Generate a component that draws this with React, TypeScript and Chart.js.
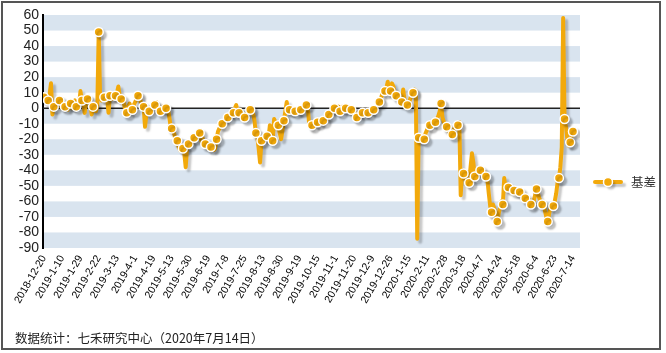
import React, { useEffect, useRef } from 'react';
import { Chart, registerables } from 'chart.js';

Chart.register(...registerables);

// Tick labels (one every 13 trading days)
const tickLabels = [
  '2018-12-20', '2019-1-10', '2019-1-29', '2019-2-22', '2019-3-13', '2019-4-1',
  '2019-4-19', '2019-5-13', '2019-5-30', '2019-6-19', '2019-7-8', '2019-7-25',
  '2019-8-13', '2019-8-30', '2019-9-19', '2019-10-15', '2019-11-1', '2019-11-20',
  '2019-12-9', '2019-12-26', '2020-1-15', '2020-2-11', '2020-2-28', '2020-3-18',
  '2020-4-7', '2020-4-24', '2020-5-18', '2020-6-4', '2020-6-23', '2020-7-14',
];
const labelEvery = 13;

const seriesName = '基差';
const footerText = '数据统计：七禾研究中心（2020年7月14日）';

// Daily basis values, one row per 13 trading days
const basis2019a = [
  7, 8, 6, 5, 9, 16, -4, 1, 2, 4, 2, 5, 1,
  0, 3, 1, 2, -1, 3, 3, 0, 4, 5, 1, 3, 2,
  11, 5, 3, -3, 4, 6, 7, 2, -4, 1, 2, -2, 1,
  49, 7, 5, 6, 7, 7, 6, -3, 8, 6, 6, 7, 8,
  10, 14, 8, 6, 5, 3, -2, -3, 1, 3, 0, -1, 2,
  4, 6, 8, 9, 4, 2, 1, -12, -4, 0, -2, -1, 2,
  1, 2, 4, 0, -1, -2, -2, 1, -1, 0, 1, -4, -10,
  -13, -15, -17, -22, -21, -25, -27, -24, -26, -29, -38, -25, -23,
  -22, -23, -21, -19, -20, -18, -17, -16, -21, -19, -24, -23, -25,
  -26, -24, -25, -26, -27, -26, -20, -15, -13, -12, -10, -9, -7,
];
const basis2019b = [
  -7, -6, -5, -4, -3, -3, 0, 2, -2, -3, -1, -4, -5,
  -6, -4, -3, -2, -1, 0, -3, -8, -16, -18, -26, -35, -21,
  -22, -19, -20, -18, -19, -11, -14, -21, -7, -9, -12, -11, -16,
  -20, -14, -8, -2, 4, -2, -1, -3, -1, -2, -2, -3, -1,
  -3, -1, 0, -2, 1, 2, 0, -10, -12, -11, -9, -10, -11,
  -9, -8, -10, -7, -8, -6, -5, -7, -4, -3, -2, -1, 0,
  -1, -3, 1, -2, -1, 1, -1, 0, 1, -1, 0, -1, -3,
  -2, -4, -6, -5, -4, -2, -3, -1, -2, -4, -3, -1, -2,
  -2, -1, 0, 1, 2, 4, 6, 9, 12, 11, 13, 17, 12,
  11, 16, 14, 9, 8, 6, 5, 7, 4, 12, 5, 3, 2,
];
const basis2020 = [
  3, 6, 9, 10, 12, 11, -84, -19, -20, -18, -21, -20, -16,
  -14, -12, -11, -9, -10, -8, -9, -7, -5, -2, 3, -6, -9,
  -11, -12, -13, -16, -15, -17, -14, -12, -10, -11, -9, -56, -40,
  -42, -45, -47, -49, -48, -38, -29, -35, -44, -40, -41, -42, -40,
  -40, -42, -41, -44, -46, -55, -63, -67, -62, -65, -70, -73, -68,
  -64, -60, -62, -45, -52, -49, -51, -50, -53, -52, -53, -55, -54,
  -55, -54, -56, -57, -59, -58, -60, -61, -59, -62, -63, -60, -56,
  -52, -55, -58, -60, -62, -61, -66, -70, -73, -68, -64, -62, -63,
  -60, -55, -48, -45, -38, -25, 58, -7, -12, -20, -24, -22, -18, -15,
];
const basisValues = [...basis2019a, ...basis2019b, ...basis2020];

const yMin = -90;
const yMax = 60;
const yStep = 10;

const LINE_COLOR = '#f2a90b';
const BAND_COLOR = '#d9e4ef';

const decorPlugin = {
  id: 'decor',
  beforeDraw(chart: any) {
    const { ctx, chartArea } = chart;
    const y = chart.scales.y;
    ctx.save();
    ctx.fillStyle = BAND_COLOR;
    for (let v = yMax; v > yMin; v -= 2 * yStep) {
      const t = y.getPixelForValue(v);
      const b = y.getPixelForValue(v - yStep);
      ctx.fillRect(chartArea.left, t, chartArea.right - chartArea.left, b - t);
    }
    ctx.restore();
  },
  beforeDatasetsDraw(chart: any) {
    const { ctx, chartArea } = chart;
    const y0 = chart.scales.y.getPixelForValue(0);
    ctx.save();
    ctx.strokeStyle = '#222';
    ctx.lineWidth = 1.5;
    ctx.beginPath();
    ctx.moveTo(chartArea.left, y0);
    ctx.lineTo(chartArea.right, y0);
    ctx.stroke();
    ctx.restore();
    ctx.save();
    ctx.shadowColor = 'rgba(0,0,0,0.22)';
    ctx.shadowOffsetX = 3;
    ctx.shadowOffsetY = 3;
    ctx.shadowBlur = 2;
  },
  afterDatasetsDraw(chart: any) {
    chart.ctx.restore();
  },
  afterDraw(chart: any) {
    const { ctx } = chart;
    // legend
    ctx.save();
    ctx.shadowColor = 'rgba(0,0,0,0.22)';
    ctx.shadowOffsetX = 3;
    ctx.shadowOffsetY = 3;
    ctx.shadowBlur = 2;
    ctx.strokeStyle = LINE_COLOR;
    ctx.lineWidth = 4;
    ctx.lineCap = 'round';
    ctx.beginPath();
    ctx.moveTo(595, 182);
    ctx.lineTo(621, 182);
    ctx.stroke();
    ctx.beginPath();
    ctx.arc(608, 182, 4.5, 0, Math.PI * 2);
    ctx.fillStyle = LINE_COLOR;
    ctx.fill();
    ctx.shadowColor = 'transparent';
    ctx.lineWidth = 1.5;
    ctx.strokeStyle = '#fff';
    ctx.stroke();
    ctx.restore();
    ctx.save();
    ctx.fillStyle = '#333';
    ctx.font = '12.5px "Noto Sans CJK SC"';
    ctx.textBaseline = 'middle';
    ctx.fillText(seriesName, 631, 182);
    // footer
    ctx.fillStyle = '#222';
    ctx.font = '12.5px "Noto Sans CJK SC"';
    ctx.fillText(footerText, 15, 338);
    // frame
    ctx.strokeStyle = '#555';
    ctx.lineWidth = 2;
    ctx.strokeRect(2, 2, 658, 347);
    ctx.restore();
  },
};

export default function App() {
  const canvasRef = useRef<HTMLCanvasElement | null>(null);

  useEffect(() => {
    const canvas = canvasRef.current;
    if (!canvas) return;
    const last = basisValues.length - 1;
    const chart = new Chart(canvas, {
      type: 'line',
      data: {
        datasets: [
          {
            label: seriesName,
            data: basisValues.map((v, i) => ({ x: i, y: v })),
            borderColor: LINE_COLOR,
            backgroundColor: LINE_COLOR,
            borderWidth: 4,
            borderJoinStyle: 'round',
            borderCapStyle: 'round',
            tension: 0,
            pointRadius: (c: any) => {
              const i = c.dataIndex;
              return i % 4 === 3 || i === 0 || i === last ? 4.5 : 0;
            },
            pointBackgroundColor: LINE_COLOR,
            pointBorderColor: '#ffffff',
            pointBorderWidth: 1.5,
          },
        ],
      },
      options: {
        responsive: false,
        animation: false,
        events: [],
        layout: { padding: { top: 15, right: 86, left: 0, bottom: 0 } },
        plugins: { legend: { display: false }, tooltip: { enabled: false } },
        scales: {
          x: {
            type: 'linear',
            min: -0.7,
            max: 382,
            grid: { display: false, drawTicks: false },
            border: { display: false },
            afterFit: (s: any) => {
              s.height = 105;
            },
            ticks: {
              stepSize: labelEvery,
              includeBounds: false,
              autoSkip: false,
              maxRotation: 60,
              minRotation: 60,
              padding: 5,
              color: '#000',
              font: { family: 'Liberation Sans', size: 10.5 },
              callback: (value: any) => {
                const v = Number(value);
                return v % labelEvery === 0 ? tickLabels[v / labelEvery] ?? '' : '';
              },
            },
          },
          y: {
            min: yMin,
            max: yMax,
            grid: { display: false, drawTicks: false },
            border: { display: true, color: '#000', width: 2 },
            afterFit: (s: any) => {
              s.width = 43;
            },
            ticks: {
              stepSize: yStep,
              autoSkip: false,
              padding: 4,
              color: '#222',
              font: { family: 'Liberation Sans', size: 14 },
            },
          },
        },
      },
      plugins: [decorPlugin],
    });
    return () => chart.destroy();
  }, []);

  return (
    <div style={{ position: 'fixed', left: 0, top: 0, width: 666, height: 353, background: '#fff' }}>
      <canvas ref={canvasRef} width={666} height={353} style={{ display: 'block' }} />
    </div>
  );
}
